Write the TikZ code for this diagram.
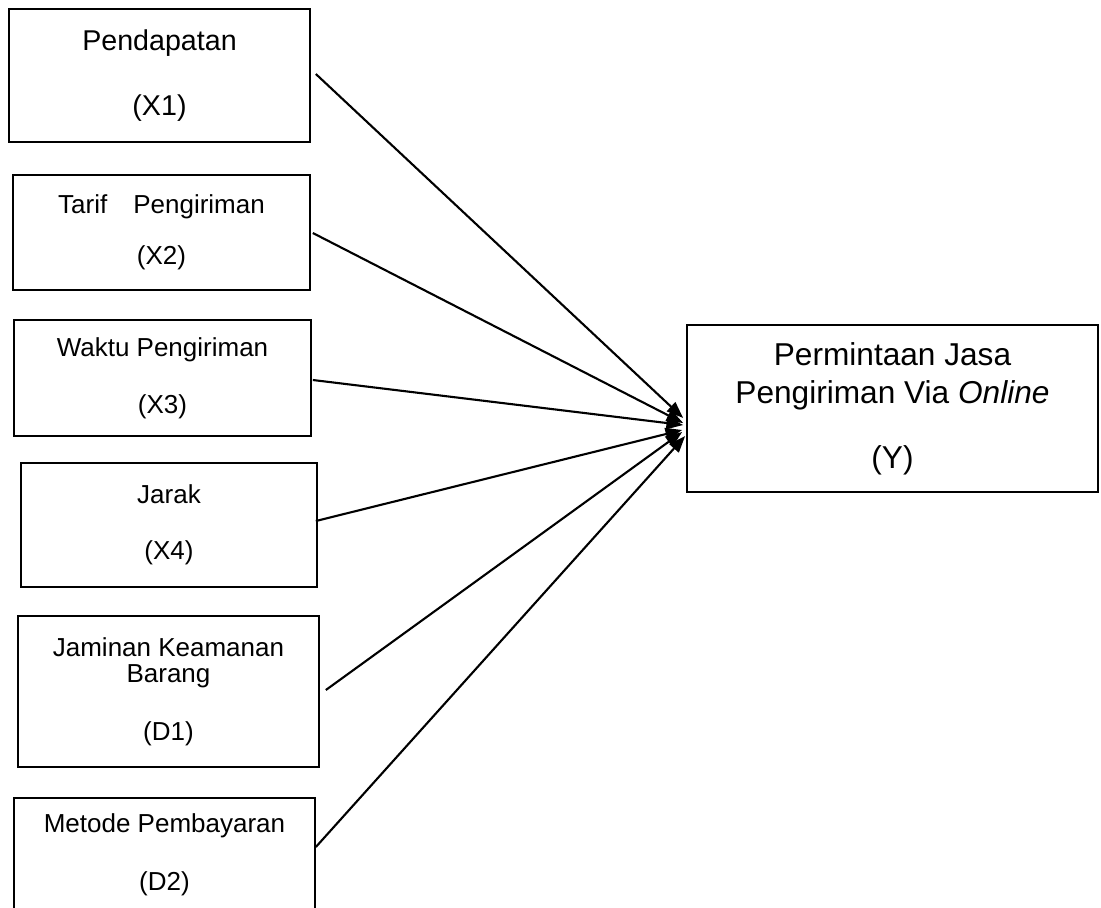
\documentclass[tikz,border=0pt]{standalone}
\usepackage{fontspec}
\setmainfont{Liberation Sans}
\usetikzlibrary{arrows.meta,calc}

\tikzset{
  varbox/.style={draw,line width=1pt,inner sep=0pt,align=center,
    font=\fontsize{14.8}{17.8}\selectfont},
  bigbox/.style={varbox,font=\fontsize{16.3}{19.6}\selectfont},
  ybox/.style={varbox,font=\fontsize{18}{21.6}\selectfont},
  link/.style={line width=1.2pt,-{Triangle[length=9.5pt,width=7pt]}}
}

\begin{document}
\begin{tikzpicture}[x=0.02cm,y=-0.02cm]
  \useasboundingbox (0,0) rectangle (1101,907);
  \clip (0,0) rectangle (1101,907);
  % independent variables
  \node[bigbox,minimum width=6.02cm,minimum height=2.66cm] (x1) at (159.5,75.5)
    {Pendapatan\\[17.5pt](X1)};
  \node[varbox,minimum width=5.94cm,minimum height=2.3cm] (x2) at (161.5,232.5)
    {Tarif\quad Pengiriman\\[11.2pt](X2)};
  \node[varbox,minimum width=5.94cm,minimum height=2.32cm] (x3) at (162.5,378)
    {Waktu Pengiriman\\[14.6pt](X3)};
  \node[varbox,minimum width=5.92cm,minimum height=2.48cm] (x4) at (169,525)
    {Jarak\\[14.1pt](X4)};
  \node[varbox,minimum width=6.02cm,minimum height=3.02cm] (d1) at (168.5,691.5)
    {Jaminan Keamanan\\[-3pt]Barang\\[15.4pt](D1)};
  \node[varbox,minimum width=6.02cm,minimum height=2.28cm] (d2) at (164.5,855)
    {Metode Pembayaran\\[15.2pt](D2)};
  % dependent variable
  \node[ybox,minimum width=8.22cm,minimum height=3.34cm] (Y) at (892.5,408.5)
    {Permintaan Jasa\\Pengiriman Via \textit{Online}\\[15.4pt](Y)};
  % arrow tips
  \coordinate (t1) at ($(Y.west)+(-3,9.5)$);
  \coordinate (t2) at ($(Y.west)+(-3,14.5)$);
  \coordinate (t3) at ($(Y.west)+(-3,16.5)$);
  \coordinate (t4) at ($(Y.west)+(-4,21.5)$);
  \coordinate (t5) at ($(Y.west)+(-4,23.5)$);
  \coordinate (t6) at ($(Y.west)+(-1,27.5)$);
  \draw[link] ($(x1.east)+(5,-1.5)$) -- (t1);
  \draw[link] ($(x2.east)+(2,0.5)$) -- (t2);
  \draw[link] ($(x3.east)+(1,2)$) -- (t3);
  \draw[link] ($(x4.east)+(-2,-4)$) -- (t4);
  \draw[link] ($(d1.east)+(6,-1.5)$) -- (t5);
  \draw[link] ($(d2.east)+(0,-8)$) -- (t6);
\end{tikzpicture}
\end{document}
